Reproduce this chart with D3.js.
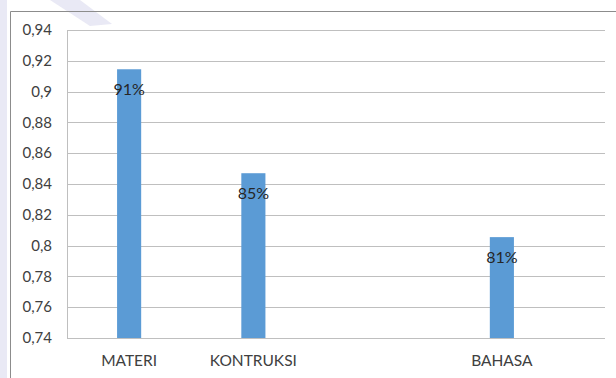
<!DOCTYPE html>
<html>
<head>
<meta charset="utf-8">
<script src="https://cdn.jsdelivr.net/npm/d3@7"></script>
<style>
  html, body { margin: 0; padding: 0; background: #fff; }
  svg { display: block; }
</style>
</head>
<body>
<figure style="margin:0"></figure>
<script>
// data (one empty slot between KONTRUKSI and BAHASA)
const categories = ["MATERI", "KONTRUKSI", "", "BAHASA"];
const values = [0.9145, 0.847, null, 0.8055];
const valueLabels = ["91%", "85%", "", "81%"];
const yTicks = [0.74, 0.76, 0.78, 0.8, 0.82, 0.84, 0.86, 0.88, 0.9, 0.92, 0.94];

const width = 616;
const height = 378;
const barColor = "#5b9bd5";
const gridColor = "#bfbfbf";
const font = "Lato, 'Open Sans', sans-serif";
const fmt = (d) => String(d).replace(".", ",");

const plot = { left: 67, right: 605, top: 30, bottom: 338 };

const svg = d3
  .select("figure")
  .append("svg")
  .attr("width", width)
  .attr("height", height);

// faint watermark behind the chart
const wm = svg.append("g").attr("fill", "#e9e9f5");
wm.append("rect").attr("x", 0).attr("y", 0).attr("width", 7).attr("height", height);
wm.append("polygon").attr("points", "50,0 80,0 112,24 90,26");

// chart frame
svg
  .append("path")
  .attr("d", `M10.5,${height} V11.5 H${width}`)
  .attr("fill", "none")
  .attr("stroke", "#8c8c8c");

const y = d3.scaleLinear().domain([0.74, 0.94]).range([plot.bottom, plot.top]);

const x = d3
  .scaleBand()
  .domain(categories)
  .range([plot.left, plot.left + (plot.right - plot.left) * (4 / 4.33)])
  .paddingInner(0.806)
  .paddingOuter(0.403);

// gridlines
svg
  .append("g")
  .selectAll("line")
  .data(yTicks)
  .join("line")
  .attr("x1", plot.left)
  .attr("x2", plot.right)
  .attr("y1", (d) => Math.round(y(d)) + 0.5)
  .attr("y2", (d) => Math.round(y(d)) + 0.5)
  .attr("stroke", gridColor)
  .attr("stroke-width", 1);

// left axis line
svg
  .append("line")
  .attr("x1", plot.left + 0.5)
  .attr("x2", plot.left + 0.5)
  .attr("y1", plot.top)
  .attr("y2", plot.bottom)
  .attr("stroke", gridColor);

// y tick labels
svg
  .append("g")
  .selectAll("text")
  .data(yTicks)
  .join("text")
  .attr("x", 52)
  .attr("y", (d) => y(d))
  .attr("dy", "0.35em")
  .attr("text-anchor", "end")
  .attr("font-family", font)
  .attr("font-size", 15)
  .attr("fill", "#404040")
  .text(fmt);

const rows = categories
  .map((c, i) => ({ c, v: values[i], label: valueLabels[i] }))
  .filter((d) => d.v !== null);

// bars
svg
  .append("g")
  .selectAll("rect")
  .data(rows)
  .join("rect")
  .attr("x", (d) => x(d.c))
  .attr("width", x.bandwidth())
  .attr("y", (d) => y(d.v))
  .attr("height", (d) => y(0.74) - y(d.v))
  .attr("fill", barColor);

// value labels
svg
  .append("g")
  .selectAll("text")
  .data(rows)
  .join("text")
  .attr("x", (d) => x(d.c) + x.bandwidth() / 2)
  .attr("y", (d) => y(d.v) + 20)
  .attr("dy", "0.35em")
  .attr("text-anchor", "middle")
  .attr("font-family", font)
  .attr("font-size", 16)
  .attr("fill", "#262626")
  .text((d) => d.label);

// category labels
svg
  .append("g")
  .selectAll("text")
  .data(rows)
  .join("text")
  .attr("x", (d) => x(d.c) + x.bandwidth() / 2)
  .attr("y", 361)
  .attr("dy", "0.35em")
  .attr("text-anchor", "middle")
  .attr("font-family", font)
  .attr("font-size", 15.5)
  .attr("fill", "#404040")
  .text((d) => d.c);
</script>
</body>
</html>
